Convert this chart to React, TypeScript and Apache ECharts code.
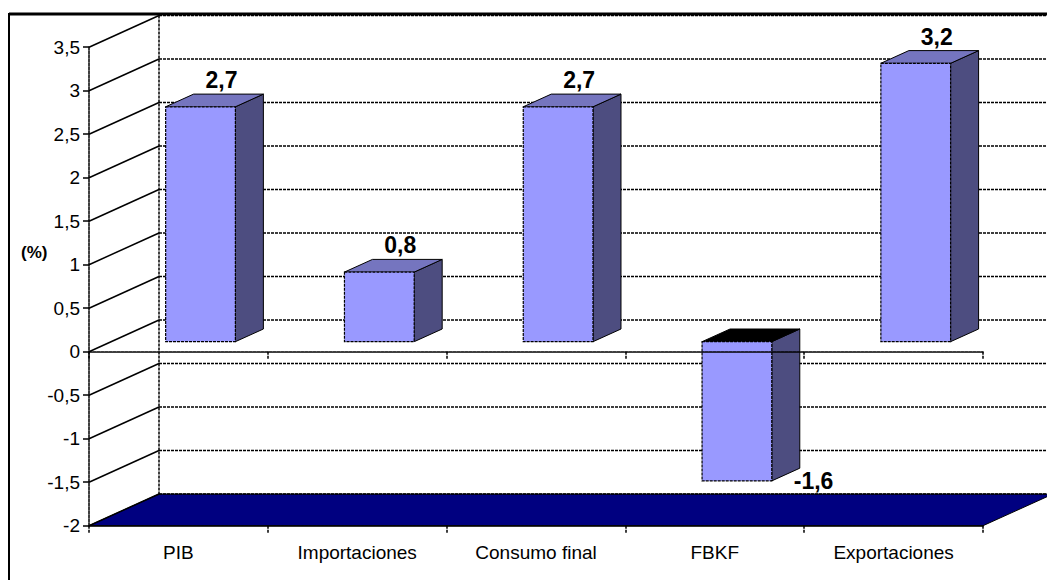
import React, { useEffect, useRef } from "react";
import * as echarts from "echarts";

// ---- data ----
const categories = ["PIB", "Importaciones", "Consumo final", "FBKF", "Exportaciones"];
const values = [2.7, 0.8, 2.7, -1.6, 3.2];
const yTicks = [-2, -1.5, -1, -0.5, 0, 0.5, 1, 1.5, 2, 2.5, 3, 3.5];
const yAxisTitle = "(%)";

// ---- styling ----
const FONT = 'Arial, "Liberation Sans", sans-serif';
const DX = 70;
const DY = -31.7;
const F0 = 0.316;
const F1 = 0.716;
const BAR_RATIO = 0.39;
const FRONT = "#9999FF";
const SIDE = "#4D4D80";
const TOP = "#7575BF";
const FLOOR = "#000080";
const DASH = [3, 1];

const fmt = (v: number) => String(v).replace(".", ",");

export default function App() {
  const ref = useRef<HTMLDivElement>(null);

  useEffect(() => {
    const chart = echarts.init(ref.current!, null, { renderer: "svg" });
    const yMin = yTicks[0];
    const yMax = yTicks[yTicks.length - 1];
    const n = categories.length;

    const axisLineStyle = { color: "#000", width: 1.5, type: DASH };
    const tickStyle = { color: "#000", width: 1.5, type: [3, 1] };

    const option: any = {
      animation: false,
      grid: { left: 89, right: 64, top: 47.2, bottom: 54.3, containLabel: false },
      xAxis: [
        {
          type: "category",
          data: categories,
          position: "bottom",
          z: 6,
          axisLine: { show: true, onZero: true, lineStyle: axisLineStyle },
          axisTick: { show: true, length: 8, lineStyle: tickStyle },
          axisLabel: { show: false },
          splitLine: { show: false },
        },
        {
          type: "category",
          data: categories,
          position: "bottom",
          z: 6,
          axisLine: { show: true, onZero: false, lineStyle: axisLineStyle },
          axisTick: { show: true, length: 8, lineStyle: tickStyle },
          axisLabel: { show: true, margin: 17, color: "#000", fontSize: 19, fontFamily: FONT },
          splitLine: { show: false },
        },
      ],
      yAxis: {
        type: "value",
        min: yMin,
        max: yMax,
        interval: 0.5,
        z: 6,
        axisLine: { show: true, lineStyle: axisLineStyle },
        axisTick: { show: true, length: 6, lineStyle: { color: "#000", width: 1.5 } },
        axisLabel: {
          margin: 9,
          color: "#000",
          fontSize: 19,
          fontFamily: FONT,
          formatter: (v: number) => fmt(v),
        },
        splitLine: { show: false },
      },
      graphic: [
        {
          type: "rect",
          shape: { x: 9, y: 14, width: 1200, height: 700 },
          style: { fill: "none", stroke: "#000", lineWidth: 2 },
          z: 0,
          silent: true,
        },
        {
          type: "line",
          shape: { x1: 9, y1: 14, x2: 1100, y2: 14 },
          style: { stroke: "#000", lineWidth: 3 },
          z: 0,
          silent: true,
        },
        {
          type: "text",
          left: 21,
          top: 244,
          style: { text: yAxisTitle, font: `bold 17px ${FONT}`, fill: "#000" },
          silent: true,
        },
      ],
      series: [
        {
          type: "custom",
          name: "walls",
          z: 1,
          silent: true,
          data: yTicks.map((v) => [0, v]),
          renderItem: (params: any, api: any) => {
            const v = api.value(1) as number;
            const p = api.coord([0, v]);
            const band = api.size([1, 0])[0];
            const left = p[0] - band / 2;
            const right = left + band * n;
            const y = p[1];
            const children: any[] = [];
            if (v === yMin) {
              children.push({
                type: "polygon",
                shape: {
                  points: [
                    [left, y],
                    [right, y],
                    [right + DX, y + DY],
                    [left + DX, y + DY],
                  ],
                },
                style: { fill: FLOOR, stroke: "#000", lineWidth: 1 },
              });
              const pt = api.coord([0, yMax]);
              children.push({
                type: "line",
                shape: { x1: left + DX, y1: pt[1] + DY, x2: left + DX, y2: y + DY },
                style: { stroke: "#000", lineWidth: 1.5, lineDash: DASH },
              });
            }
            children.push({
              type: "line",
              shape: { x1: left, y1: y, x2: left + DX, y2: y + DY },
              style: { stroke: "#000", lineWidth: 1.5 },
            });
            children.push({
              type: "line",
              shape: { x1: left + DX, y1: y + DY, x2: right + DX, y2: y + DY },
              style: { stroke: "#000", lineWidth: 1.5, lineDash: DASH },
            });
            return { type: "group", children };
          },
        },
        {
          type: "custom",
          name: "bars",
          z: 2,
          data: values.map((v, i) => [i, v]),
          renderItem: (params: any, api: any) => {
            const i = api.value(0) as number;
            const v = api.value(1) as number;
            const pb = api.coord([i, 0]);
            const pv = api.coord([i, v]);
            const band = api.size([1, 0])[0];
            const w = band * BAR_RATIO;
            const ox = F0 * DX;
            const oy = F0 * DY;
            const ddx = (F1 - F0) * DX;
            const ddy = (F1 - F0) * DY;
            const xL = pb[0] + ox - w / 2;
            const xR = xL + w;
            const yTop = Math.min(pb[1], pv[1]) + oy;
            const yBot = Math.max(pb[1], pv[1]) + oy;
            const neg = v < 0;
            const label = neg
              ? {
                  type: "text",
                  style: {
                    text: fmt(v),
                    x: xR + ddx - 6,
                    y: yBot,
                    font: `bold 23px ${FONT}`,
                    fill: "#000",
                    align: "left",
                    verticalAlign: "middle",
                  },
                }
              : {
                  type: "text",
                  style: {
                    text: fmt(v),
                    x: xL + w / 2 + 21,
                    y: yTop + ddy - 14,
                    font: `bold 23px ${FONT}`,
                    fill: "#000",
                    align: "center",
                    verticalAlign: "middle",
                  },
                };
            return {
              type: "group",
              children: [
                {
                  type: "polygon",
                  shape: {
                    points: [
                      [xR, yTop],
                      [xR + ddx, yTop + ddy],
                      [xR + ddx, yBot + ddy],
                      [xR, yBot],
                    ],
                  },
                  style: { fill: SIDE, stroke: "#000", lineWidth: 1 },
                },
                {
                  type: "polygon",
                  shape: {
                    points: [
                      [xL, yTop],
                      [xR, yTop],
                      [xR + ddx, yTop + ddy],
                      [xL + ddx, yTop + ddy],
                    ],
                  },
                  style: { fill: neg ? "#000" : TOP, stroke: "#000", lineWidth: 1 },
                },
                {
                  type: "rect",
                  shape: { x: xL, y: yTop, width: w, height: yBot - yTop },
                  style: { fill: FRONT, stroke: "#000", lineWidth: 1.2, lineDash: [3, 1] },
                },
                label,
              ],
            };
          },
        },
      ],
    };

    chart.setOption(option);
    return () => chart.dispose();
  }, []);

  return (
    <div
      ref={ref}
      style={{ position: "fixed", left: 0, top: 0, width: 1047, height: 580, background: "#fff" }}
    />
  );
}
